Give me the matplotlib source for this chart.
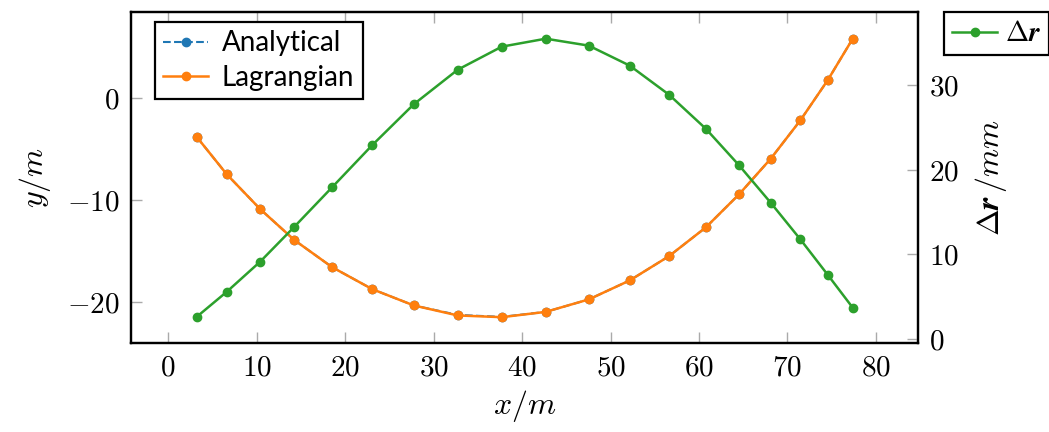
import matplotlib
matplotlib.use("Agg")
import matplotlib.pyplot as plt
from matplotlib.ticker import FuncFormatter

plt.rcParams['mathtext.fontset'] = 'cm'
plt.rcParams['font.family'] = ['Lato', 'DejaVu Sans']

# positions along the track (m)
x = [3.24, 6.63, 10.40, 14.27, 18.53, 23.08, 27.76, 32.73, 37.71, 42.68,
     47.54, 52.17, 56.61, 60.76, 64.52, 68.10, 71.45, 74.54, 77.37]
y_analytical = [-3.82, -7.48, -10.88, -13.92, -16.57, -18.73, -20.32, -21.25, -21.44, -20.95,
                -19.73, -17.87, -15.49, -12.68, -9.44, -5.95, -2.19, 1.74, 5.81]
y_lagrangian = [-3.82, -7.48, -10.88, -13.92, -16.57, -18.73, -20.32, -21.30, -21.47, -20.95,
                -19.73, -17.87, -15.49, -12.68, -9.44, -5.95, -2.19, 1.74, 5.81]
# position error (mm)
dr = [2.63, 5.58, 9.13, 13.26, 17.91, 22.90, 27.71, 31.79, 34.51, 35.45,
      34.63, 32.27, 28.84, 24.83, 20.51, 16.09, 11.77, 7.59, 3.70]

fig = plt.figure(figsize=(10.49, 4.32), dpi=100)
ax = fig.add_axes([131/1049, 1-343/432, (918-131)/1049, (343-12)/432])
ax2 = ax.twinx()

ax.plot(x, y_analytical, '--o', color='tab:blue', lw=1.5, ms=6, label='Analytical')
ax.plot(x, y_lagrangian, '-o', color='tab:orange', lw=1.8, ms=6, label='Lagrangian')
ax2.plot(x, dr, '-o', color='tab:green', lw=1.8, ms=6, label=r'$\Delta\boldsymbol{r}$')

ax.set_xlim(-4.2, 84.75)
ax.set_ylim(-24.0, 8.43)
ax2.set_ylim(-0.47, 38.6)
ax.set_xticks(range(0, 81, 10))
ax.set_yticks([-20, -10, 0])
ax2.set_yticks([0, 10, 20, 30])

fmt = FuncFormatter(lambda v, p: '$%d$' % v)
for a in (ax, ax2):
    a.xaxis.set_major_formatter(fmt)
    a.yaxis.set_major_formatter(fmt)
    for s in a.spines.values():
        s.set_linewidth(1.6)
        s.set_color('black')

ax.tick_params(axis='both', direction='in', length=8, width=1, color='#aaaaaa',
               labelsize=21, top=True, right=False, pad=8)
ax2.tick_params(axis='y', direction='in', length=8, width=1, color='#aaaaaa',
                labelsize=21, pad=8)

ax.set_xlabel('$x/m$', fontsize=23, labelpad=6)
ax.set_ylabel('$y/m$', fontsize=23, labelpad=10)
ax2.set_ylabel(r'$\Delta\boldsymbol{r}\,/mm$', fontsize=23, labelpad=10)

leg = ax.legend(loc='upper left', bbox_to_anchor=(24/787, 1-10/331), borderaxespad=0,
                fontsize=20, fancybox=False, edgecolor='black', framealpha=1,
                handlelength=1.6, borderpad=0.3, labelspacing=0.3, handletextpad=0.5)
leg.get_frame().set_linewidth(1.6)

leg2 = ax2.legend(loc='upper left', bbox_to_anchor=(1+26/787, 1.0), borderaxespad=0,
                  fontsize=20, fancybox=False, edgecolor='black', framealpha=1,
                  handlelength=1.6, borderpad=0.3, handletextpad=0.3)
leg2.get_frame().set_linewidth(1.6)

fig.savefig('out.png', dpi=100)
